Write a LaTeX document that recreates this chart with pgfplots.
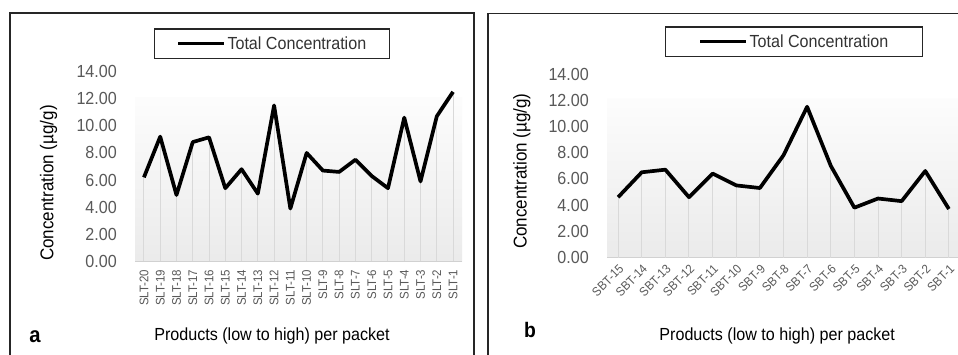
\documentclass[border=0pt]{standalone}
\usepackage{fontspec}
\setmainfont{Liberation Sans}[FakeStretch=0.92]
\usepackage{pgfplots}
\pgfplotsset{compat=1.18}
\usepackage{pgfplotstable}

\pgfplotstableread{
x y
0 6.2
1 9.2
2 4.9
3 8.8
4 9.15
5 5.4
6 6.8
7 5.0
8 11.5
9 3.9
10 8.0
11 6.7
12 6.6
13 7.5
14 6.3
15 5.4
16 10.6
17 5.9
18 10.7
19 12.5
}\dataA

\pgfplotstableread{
x y
0 4.6
1 6.5
2 6.7
3 4.6
4 6.4
5 5.5
6 5.3
7 7.8
8 11.5
9 7.0
10 3.8
11 4.5
12 4.3
13 6.6
14 3.7
}\dataB

\pgfplotsset{
  panel/.style={
    scale only axis, clip=false,
    ymin=0, ymax=14, ytick={0,2,...,14},
    axis line style={draw=none}, major tick length=0pt, tick style={draw=none},
    yticklabel style={inner sep=0pt, text=black!65, font=\fontsize{17.5bp}{20bp}\selectfont,
      /pgf/number format/fixed, /pgf/number format/fixed zerofill,
      /pgf/number format/precision=2, /pgf/number format/assume math mode=true},
    yticklabel shift=18bp,
    label style={font=\fontsize{17.5bp}{20bp}\selectfont, text=black, inner sep=0pt},
    ylabel style={font=\fontsize{18.5bp}{20bp}\selectfont},
    legend style={draw=black!85, line width=1.2bp, fill=white,
      font=\fontsize{17.5bp}{20bp}\selectfont, text=black!80, nodes={inner sep=1.5bp}},
    legend image code/.code={\draw[black, line width=3.7bp] (0bp,0bp) -- (46bp,0bp);},
  }
}

\begin{document}
\begin{tikzpicture}
\useasboundingbox (0bp,0bp) rectangle (958bp,355bp);
\clip (0bp,0bp) rectangle (958bp,355bp);
\fill[white] (0bp,0bp) rectangle (958bp,355bp);

% panel frames
\draw[black!85, line width=1.5bp] (10bp,-10bp) rectangle (474bp,342bp);
\draw[black!85, line width=1.5bp] (488bp,-10bp) rectangle (975bp,341.5bp);

% ---- panel a ----
\begin{axis}[panel,
  at={(135bp,93.5bp)}, anchor=south west, width=327bp, height=190bp,
  xmin=-0.55, xmax=19.55,
  xtick={0,...,19},
  xticklabels={SLT-20,SLT-19,SLT-18,SLT-17,SLT-16,SLT-15,SLT-14,SLT-13,SLT-12,SLT-11,SLT-10,SLT-9,SLT-8,SLT-7,SLT-6,SLT-5,SLT-4,SLT-3,SLT-2,SLT-1},
  xticklabel style={rotate=90, anchor=east, inner sep=0pt, text=black!65, font=\fontsize{12.5bp}{14bp}\selectfont},
  xticklabel shift=8bp,
  xlabel={Products (low to high) per packet},
  xlabel style={at={(axis description cs:0.419,-0.392)}, anchor=center},
  ylabel={Concentration (µg/g)},
  ylabel style={at={(axis description cs:-0.264,0.413)}, anchor=center},
  legend style={at={(axis description cs:0.419,1.147)}, anchor=center, inner xsep=22bp, inner ysep=6bp},
]
\path[top color=black!1, bottom color=black!8] (axis cs:-0.55,0) rectangle (axis cs:19.55,12.1);
\draw[black!18, line width=1.2bp] (axis cs:-0.55,0) -- (axis cs:19.55,0);
\addplot[ycomb, black!15, line width=1bp, no markers, forget plot] table {\dataA};
\addplot[black, line width=3.7bp, line join=round, no markers] table {\dataA};
\addlegendentry{Total Concentration}
\end{axis}

% ---- panel b ----
\begin{axis}[panel,
  at={(607bp,97.5bp)}, anchor=south west, width=353bp, height=183.5bp,
  xmin=-0.47, xmax=14.47,
  xtick={0,...,14},
  xticklabels={SBT-15,SBT-14,SBT-13,SBT-12,SBT-11,SBT-10,SBT-9,SBT-8,SBT-7,SBT-6,SBT-5,SBT-4,SBT-3,SBT-2,SBT-1},
  xticklabel style={rotate=45, anchor=north east, inner sep=0pt, text=black!65, font=\fontsize{12.5bp}{14bp}\selectfont},
  xticklabel shift=6bp,
  xlabel={Products (low to high) per packet},
  xlabel style={at={(axis description cs:0.482,-0.43)}, anchor=center},
  ylabel={Concentration (µg/g)},
  ylabel style={at={(axis description cs:-0.241,0.471)}, anchor=center},
  legend style={at={(axis description cs:0.530,1.177)}, anchor=center, inner xsep=33bp, inner ysep=6bp},
]
\path[top color=black!1, bottom color=black!8] (axis cs:-0.47,0) rectangle (axis cs:14.47,12.1);
\draw[black!18, line width=1.2bp] (axis cs:-0.47,0) -- (axis cs:14.47,0);
\addplot[ycomb, black!15, line width=1bp, no markers, forget plot] table {\dataB};
\addplot[black, line width=3.7bp, line join=round, no markers] table {\dataB};
\addlegendentry{Total Concentration}
\end{axis}

\node[inner sep=0pt, font=\bfseries\fontsize{22bp}{24bp}\selectfont] at (35bp,18.5bp) {a};
\node[inner sep=0pt, font=\bfseries\fontsize{21bp}{24bp}\selectfont] at (530bp,25.5bp) {b};
\end{tikzpicture}
\end{document}
